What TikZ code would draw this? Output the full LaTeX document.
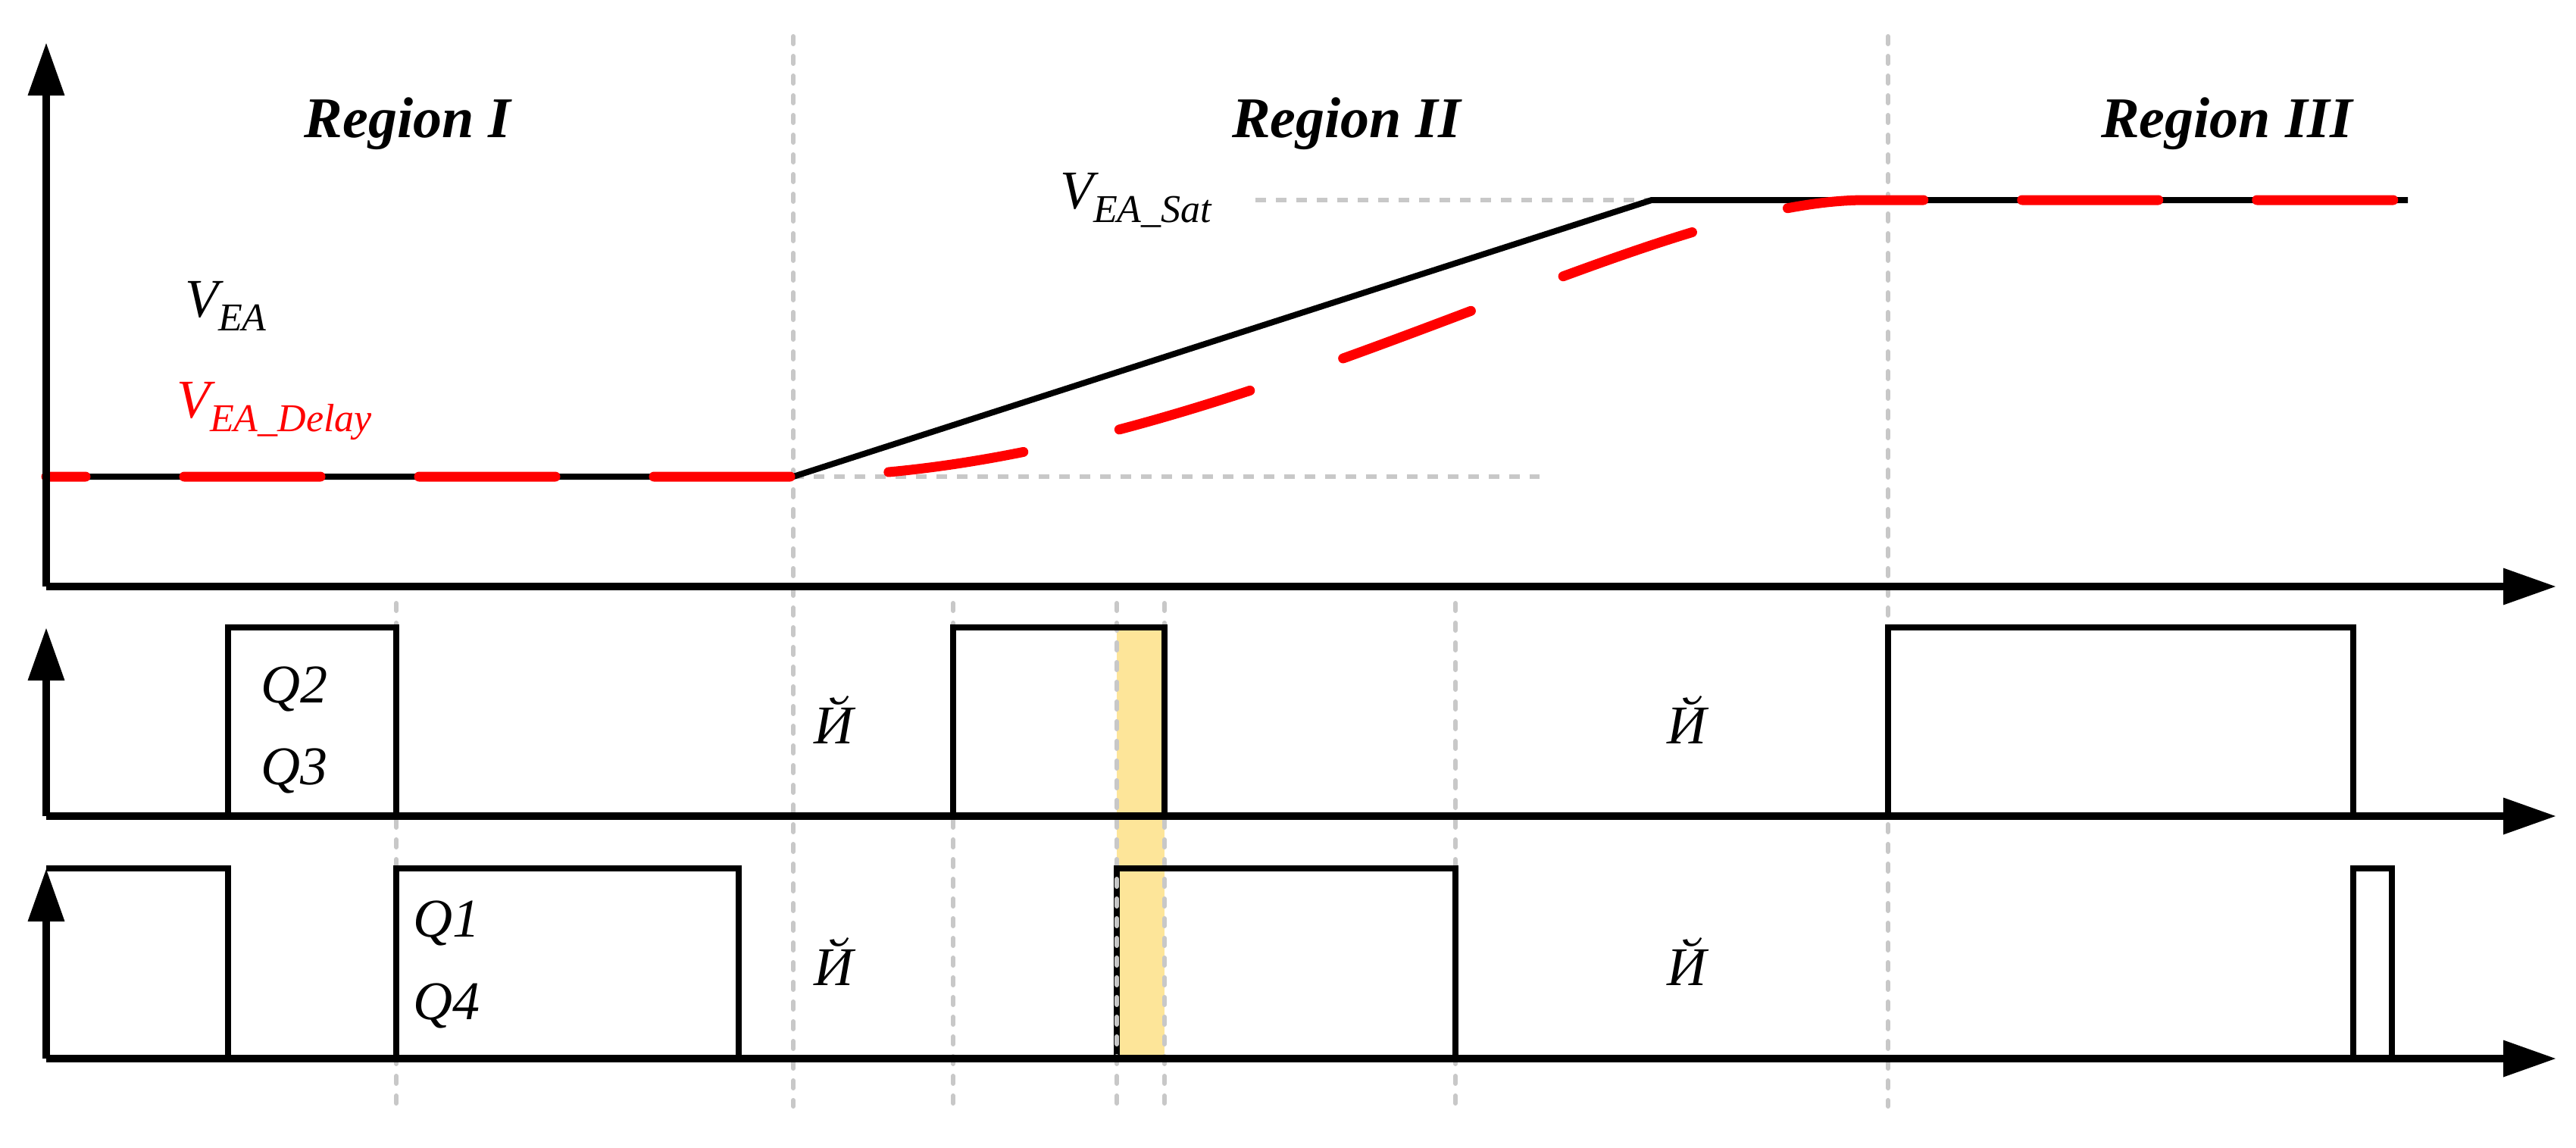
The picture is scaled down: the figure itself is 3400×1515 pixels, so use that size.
\documentclass[tikz,border=0pt]{standalone}
\usepackage{fontspec}
\setmainfont{Liberation Serif}
\usetikzlibrary{arrows.meta}
\definecolor{gr}{RGB}{200,200,200}
\definecolor{yel}{RGB}{253,229,153}
\begin{document}
\begin{tikzpicture}[x=1pt,y=-1pt,
  axis/.style={line width=10pt,-{Triangle[length=70pt,width=46pt]}},
  sig/.style={line width=8pt,line join=miter},
  vdash/.style={gr,line width=6pt,line cap=round,dash pattern=on 10pt off 16pt},
  hdot/.style={gr,line width=6pt,dash pattern=on 14pt off 13pt},
  redd/.style={red,line width=13pt,line cap=round,dash pattern=on 180pt off 130pt,dash phase=128pt},
  lab/.style={font=\fontsize{72}{72}\selectfont\itshape,inner sep=0pt},
  reg/.style={font=\fontsize{76}{76}\selectfont\bfseries\itshape,inner sep=0pt,anchor=base}]
\useasboundingbox (0,0) rectangle (3400,1515);
% yellow
\fill[yel] (1474,828) rectangle (1537,1397);
% gray guides
\draw[hdot] (1047,629) -- (2032,629);
\draw[hdot] (1657,264) -- (2485,264);
\foreach \x in {1047,2492} \draw[vdash] (\x,48) -- (\x,1460);
\foreach \x in {523,1258,1474,1537,1921} \draw[vdash] (\x,796) -- (\x,1460);
% top plot
\draw[sig] (61,629) -- (1047,629) -- (2180,264) -- (3178,264);
\draw[redd] (61,629) -- (1047,629) .. controls (1600,629) and (2150,264) .. (2463,264) -- (3178,264);
\draw[axis] (61,774) -- (3374,774);
\draw[axis] (61,774) -- (61,56);
% middle plot
\draw[sig] (301,1077) -- (301,828) -- (523,828) -- (523,1077);
\draw[sig] (1258,1077) -- (1258,828) -- (1537,828) -- (1537,1077);
\draw[sig] (2492,1077) -- (2492,828) -- (3106,828) -- (3106,1077);
\draw[axis] (61,1077) -- (3374,1077);
\draw[axis] (61,1077) -- (61,828);
% bottom plot
\draw[sig] (61,1146) -- (301,1146) -- (301,1397);
\draw[sig] (523,1397) -- (523,1146) -- (975,1146) -- (975,1397);
\draw[sig] (1474,1397) -- (1474,1146) -- (1921,1146) -- (1921,1397);
\draw[vdash] (1474,1160) -- (1474,1397);
\draw[sig] (3106,1397) -- (3106,1146) -- (3157,1146) -- (3157,1397);
\draw[axis] (61,1397) -- (3374,1397);
\draw[axis] (61,1397) -- (61,1146);
% labels
\node[reg] (r1) at (538,181) {Region I};
\node[reg] (r2) at (1777,181) {Region II};
\node[reg] (r3) at (2939,181) {Region III};
\node[lab,anchor=base west] (vea) at (244,418) {V\raisebox{-18pt}{\fontsize{52}{52}\selectfont EA}};
\node[lab,anchor=base west,text=red] (ved) at (233,551) {V\raisebox{-18pt}{\fontsize{52}{52}\selectfont EA\_Delay}};
\node[lab,anchor=base west] (ves) at (1399,275) {V\raisebox{-18pt}{\fontsize{52}{52}\selectfont EA\_Sat}};
\node[lab,anchor=base] (y1) at (1100,981) {Й};
\node[lab,anchor=base] (y2) at (2226,981) {Й};
\node[lab,anchor=base] (y3) at (1100,1300) {Й};
\node[lab,anchor=base] (y4) at (2226,1300) {Й};
\node[lab,anchor=base west] (q2) at (344,927) {Q2};
\node[lab,anchor=base west] (q3) at (344,1035) {Q3};
\node[lab,anchor=base west] (q1) at (545,1236) {Q1};
\node[lab,anchor=base west] (q4) at (545,1345) {Q4};
\end{tikzpicture}
\end{document}
